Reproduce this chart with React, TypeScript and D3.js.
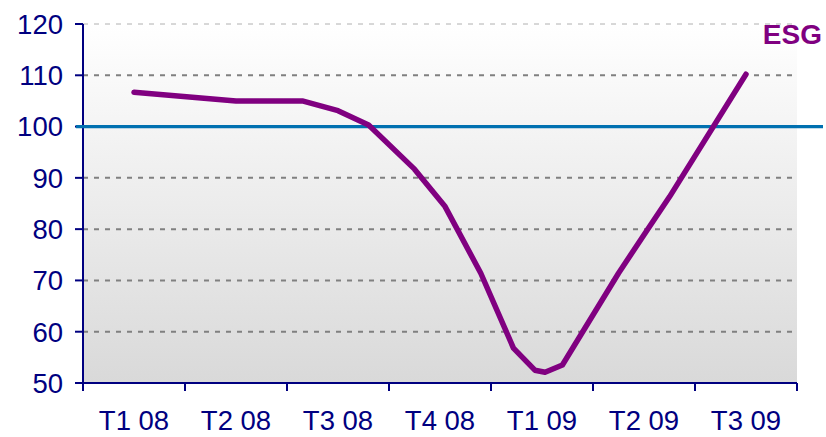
import React from "react";
import * as d3 from "d3";

const quarters = ["T1 08", "T2 08", "T3 08", "T4 08", "T1 09", "T2 09", "T3 09"];
const yTicks = [50, 60, 70, 80, 90, 100, 110, 120];
const esgPos = [0, 1, 1.65, 2, 2.3, 2.75, 3.05, 3.4, 3.72, 3.93, 4.03, 4.2, 4.75, 5.03, 5.25, 6];
const esgValues = [106.7, 105.0, 105.0, 103.1, 100.3, 91.7, 84.4, 71.4, 56.8, 52.5, 52.1, 53.5, 71.4, 79.8, 86.3, 110.2];
const refValue = 100;
const seriesName = "ESG";

const W = 826;
const H = 437;
const left = 83;
const right = 797;
const top = 24;
const bottom = 383;
const navy = "#000080";
const font = "'Liberation Sans', Arial, sans-serif";

export default function App() {
  const x = d3.scaleLinear().domain([-0.5, quarters.length - 0.5]).range([left, right]);
  const y = d3.scaleLinear().domain([50, 120]).range([bottom, top]);
  const pts = esgPos.map((p, i) => [p, esgValues[i]] as [number, number]);
  const line = d3
    .line<[number, number]>()
    .x((d) => x(d[0]))
    .y((d) => y(d[1]));
  const bounds = d3.range(quarters.length + 1).map((i) => i - 0.5);

  return (
    <svg
      width={W}
      height={H}
      style={{ position: "absolute", left: 0, top: 0, background: "#fff" }}
      fontFamily={font}
    >
      <defs>
        <linearGradient id="bg" x1="0" y1="0" x2="0" y2="1">
          <stop offset="0" stopColor="#ffffff" />
          <stop offset="1" stopColor="#d9d9d9" />
        </linearGradient>
      </defs>
      <rect x={left} y={y(120)} width={right - left} height={bottom - y(120)} fill="url(#bg)" />
      {yTicks
        .filter((t) => t !== 50 && t !== refValue)
        .map((t) => (
          <line
            key={t}
            x1={left}
            x2={right}
            y1={y(t)}
            y2={y(t)}
            stroke={t === 120 ? "#b0b0b0" : "#808080"}
            strokeWidth={t === 120 ? 1 : 2}
            strokeDasharray="5,6"
          />
        ))}
      <line x1={left} x2={left} y1={y(120)} y2={bottom + 8} stroke={navy} strokeWidth={2} />
      <line x1={left} x2={right} y1={bottom} y2={bottom} stroke={navy} strokeWidth={2} />
      {yTicks.map((t) => (
        <g key={t}>
          <line x1={left - 8} x2={left} y1={y(t)} y2={y(t)} stroke={navy} strokeWidth={2} />
          <text x={63} y={y(t)} dy="0.36em" textAnchor="end" fontSize={27.5} fill={navy}>
            {t}
          </text>
        </g>
      ))}
      {bounds.map((b) => (
        <line key={b} x1={x(b)} x2={x(b)} y1={bottom} y2={bottom + 8} stroke={navy} strokeWidth={2} />
      ))}
      {quarters.map((q, i) => (
        <text key={q} x={x(i)} y={430} textAnchor="middle" fontSize={27.5} fill={navy}>
          {q}
        </text>
      ))}
      <line x1={left - 7} x2={823} y1={y(refValue)} y2={y(refValue)} stroke="#0070b0" strokeWidth={3.3} />
      <path
        d={line(pts) || ""}
        fill="none"
        stroke="#800080"
        strokeWidth={5.5}
        strokeLinecap="round"
        strokeLinejoin="round"
      />
      <text x={822} y={44} textAnchor="end" fontSize={28} fontWeight="bold" fill="#800080">
        {seriesName}
      </text>
    </svg>
  );
}
